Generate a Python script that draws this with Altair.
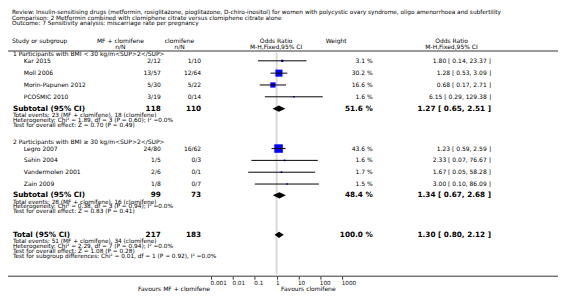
import altair as alt
import pandas as pd

# ---------------- data ----------------
title_lines = [
    "Review:  Insulin-sensitising drugs (metformin, rosiglitazone, pioglitazone, D-chiro-inositol) for women with polycystic ovary syndrome, oligo amenorrhoea and subfertility",
    "Comparison:  2 Metformin combined with clomiphene citrate versus clomiphene citrate alone",
    "Outcome:  7 Sensitivity analysis: miscarriage rate per pregnancy",
]
header_study = "Study or subgroup"
header_mf = ["MF + clomifene", "n/N"]
header_cl = ["clomifene", "n/N"]
header_or = ["Odds Ratio", "M-H,Fixed,95% CI"]
header_weight = "Weight"
axis_ticks = [0.001, 0.01, 0.1, 1, 10, 100, 1000]
favours_left = "Favours MF + clomifene"
favours_right = "Favours clomifene"

group_labels = [
    "1 Participants with BMI < 30 kg/m<SUP>2</SUP>",
    "2 Participants with BMI \u2265 30 kg/m<SUP>2</SUP>",
]
studies = ["Kar 2015", "Moll 2006", "Morin-Papunen 2012", "PCOSMIC 2010",
           "Legro 2007", "Sahin 2004", "Vandermolen 2001", "Zain 2009"]
mf_events = [2, 13, 5, 3, 24, 1, 2, 1]
mf_total = [12, 57, 30, 19, 80, 5, 6, 8]
cl_events = [1, 12, 5, 0, 16, 0, 0, 0]
cl_total = [10, 64, 22, 14, 62, 3, 1, 7]
weights = [3.1, 30.2, 16.6, 1.6, 43.6, 1.6, 1.7, 1.5]
or_est = [1.80, 1.28, 0.68, 6.15, 1.23, 2.33, 1.67, 3.00]
or_lo = [0.14, 0.53, 0.17, 0.29, 0.59, 0.07, 0.05, 0.10]
or_hi = [23.37, 3.09, 2.71, 129.38, 2.59, 76.67, 58.28, 86.09]

summary_labels = ["Subtotal (95% CI)", "Subtotal (95% CI)", "Total (95% CI)"]
summary_mf_total = [118, 99, 217]
summary_cl_total = [110, 73, 183]
summary_weight = [51.6, 48.4, 100.0]
summary_est = [1.27, 1.34, 1.30]
summary_lo = [0.65, 0.67, 0.80]
summary_hi = [2.51, 2.68, 2.12]
summary_notes = [
    ["Total events: 23 (MF + clomifene), 18 (clomifene)",
     "Heterogeneity: Chi\u00b2 = 1.89, df = 3 (P = 0.60); I\u00b2 =0.0%",
     "Test for overall effect: Z = 0.70 (P = 0.49)"],
    ["Total events: 28 (MF + clomifene), 16 (clomifene)",
     "Heterogeneity: Chi\u00b2 = 0.38, df = 3 (P = 0.94); I\u00b2 =0.0%",
     "Test for overall effect: Z = 0.83 (P = 0.41)"],
    ["Total events: 51 (MF + clomifene), 34 (clomifene)",
     "Heterogeneity: Chi\u00b2 = 2.29, df = 7 (P = 0.94); I\u00b2 =0.0%",
     "Test for overall effect: Z = 1.08 (P = 0.28)",
     "Test for subgroup differences: Chi\u00b2 = 0.01, df = 1 (P = 0.92), I\u00b2 =0.0%"],
]

# ---------------- layout (page pixel coordinates) ----------------
OFF = 8
W, H = 558, 270
FONT = "DejaVu Sans"
FS = 6.1
FSN = 5.9
FSB = 7.4
X_TITLE, X_GROUP, X_STUDY = 12, 13, 24
X_MF, X_CL, X_W, X_OR = 163, 204, 378, 498
X_MF_HEAD, X_CL_HEAD, X_FOREST, X_W_HEAD, X_OR_HEAD = 122, 182, 280, 341, 458
title_y = [9.7, 15.6, 21.5]
head_y = [39, 46]
group_y = [52.5, 142]
study_y = [59.5, 72, 84, 96, 148.5, 160.5, 172.5, 184.5]
summary_y = [108, 196, 236]
NOTE_GAP, NOTE_STEP = 6.4, 4.9
DIAMOND_H = 3.2

texts = []


def add(t, x, y, style):
    texts.append(dict(text=t, x=x, y=y, style=style))


for t, y in zip(title_lines, title_y):
    add(t, X_TITLE, y, "note")
add(header_study, X_TITLE, head_y[0], "nl")
for (a, b), xc in [(header_mf, X_MF_HEAD), (header_cl, X_CL_HEAD),
                   (header_or, X_FOREST), (header_or, X_OR_HEAD)]:
    add(a, xc, head_y[0], "nc")
    add(b, xc, head_y[1], "nc")
add(header_weight, X_W_HEAD, head_y[0], "nc")
for g, y in zip(group_labels, group_y):
    add(g, X_GROUP, y, "nl")
for i, s in enumerate(studies):
    y = study_y[i]
    add(s, X_STUDY, y, "nl")
    add(f"{mf_events[i]}/{mf_total[i]}", X_MF, y, "nr")
    add(f"{cl_events[i]}/{cl_total[i]}", X_CL, y, "nr")
    add(f"{weights[i]:.1f} %", X_W, y, "nr")
    add(f"{or_est[i]:.2f} [ {or_lo[i]:.2f}, {or_hi[i]:.2f} ]", X_OR, y, "nr")
for j, lab in enumerate(summary_labels):
    y = summary_y[j]
    add(lab, X_GROUP, y, "bl")
    add(str(summary_mf_total[j]), X_MF, y, "br")
    add(str(summary_cl_total[j]), X_CL, y, "br")
    add(f"{summary_weight[j]:.1f} %", X_W, y, "br")
    add(f"{summary_est[j]:.2f} [ {summary_lo[j]:.2f}, {summary_hi[j]:.2f} ]", X_OR, y, "br")
    for k, n in enumerate(summary_notes[j]):
        add(n, X_GROUP, y + NOTE_GAP + k * NOTE_STEP, "note")
add(favours_left, 213, 291.5, "nr")
add(favours_right, 285, 291.5, "nl")

tdf = pd.DataFrame(texts)

study_df = pd.DataFrame(dict(est=or_est, lo=or_lo, hi=or_hi, w=weights, y=study_y))
dia_rows = []
for j in range(3):
    yc = summary_y[j]
    dia_rows += [
        dict(g=j, dx=summary_lo[j], y=yc, y2=yc),
        dict(g=j, dx=summary_est[j], y=yc - DIAMOND_H, y2=yc + DIAMOND_H),
        dict(g=j, dx=summary_hi[j], y=yc, y2=yc),
    ]
dia_df = pd.DataFrame(dia_rows)

# ---------------- scales ----------------
xs = alt.Scale(type="log", domain=[0.001, 1000], range=[214 - OFF, 347 - OFF])
txs = alt.Scale(domain=[OFF, OFF + W], range=[0, W])
ys = alt.Scale(domain=[OFF, OFF + H], range=[0, H])
xaxis = alt.Axis(values=axis_ticks, format="~g", title=None, domain=False, grid=False,
                 ticks=True, tickSize=3, tickColor="#333", labelFontSize=5.8, labelFont=FONT,
                 labelColor="#111", labelAlign="left", labelPadding=0, labelFlush=False,
                 labelOverlap=False, labelBound=False, labelOffset=-1)

base_line = alt.Chart(pd.DataFrame({"one": [1]}))

sep = base_line.mark_rule(color="#9a9a9a", strokeWidth=2).encode(
    x=alt.value(0), x2=alt.value(W), y=alt.value(49.5 - OFF))
axis_line = base_line.mark_rule(color="#333", strokeWidth=1).encode(
    x=alt.value(0), x2=alt.value(W), y=alt.value(H))
null_line = base_line.mark_rule(color="#d9d9d9", strokeWidth=2).encode(
    x=alt.X("one:Q", scale=xs, axis=None), y=alt.value(51 - OFF), y2=alt.value(276 - OFF))

squares = alt.Chart(study_df).mark_square(color="#0000ff", opacity=1).encode(
    x=alt.X("est:Q", scale=xs, axis=xaxis),
    y=alt.Y("y:Q", scale=ys, axis=None),
    size=alt.Size("w:Q", scale=alt.Scale(domain=[0, 100], range=[0, 170]), legend=None),
)
ci = alt.Chart(study_df).mark_rule(color="black", strokeWidth=1).encode(
    x=alt.X("lo:Q", scale=xs, axis=None), x2="hi:Q",
    y=alt.Y("y:Q", scale=ys, axis=None),
)
diamonds = alt.Chart(dia_df).mark_area(color="black", opacity=1, interpolate="linear").encode(
    x=alt.X("dx:Q", scale=xs, axis=None),
    y=alt.Y("y:Q", scale=ys, axis=None), y2="y2:Q",
    detail="g:N",
)


def tl(style, align, weight, size):
    return alt.Chart(tdf[tdf["style"] == style]).mark_text(
        align=align, baseline="middle", font=FONT, fontSize=size,
        fontWeight=weight, color="black").encode(
        x=alt.X("x:Q", scale=txs, axis=None),
        y=alt.Y("y:Q", scale=ys, axis=None),
        text="text:N")


chart = alt.layer(
    sep, null_line, squares, ci, diamonds, axis_line,
    tl("nl", "left", "normal", FS), tl("nc", "center", "normal", FS),
    tl("nr", "right", "normal", FS), tl("note", "left", "normal", FSN),
    tl("bl", "left", "bold", FSB), tl("br", "right", "bold", FSB),
).resolve_scale(x="independent").properties(
    width=W, height=H, autosize="none",
    padding={"left": 0, "top": 0, "right": 0, "bottom": 18},
).configure_view(stroke=None)

chart.save("out.html", embed_options={"renderer": "svg", "actions": False})
